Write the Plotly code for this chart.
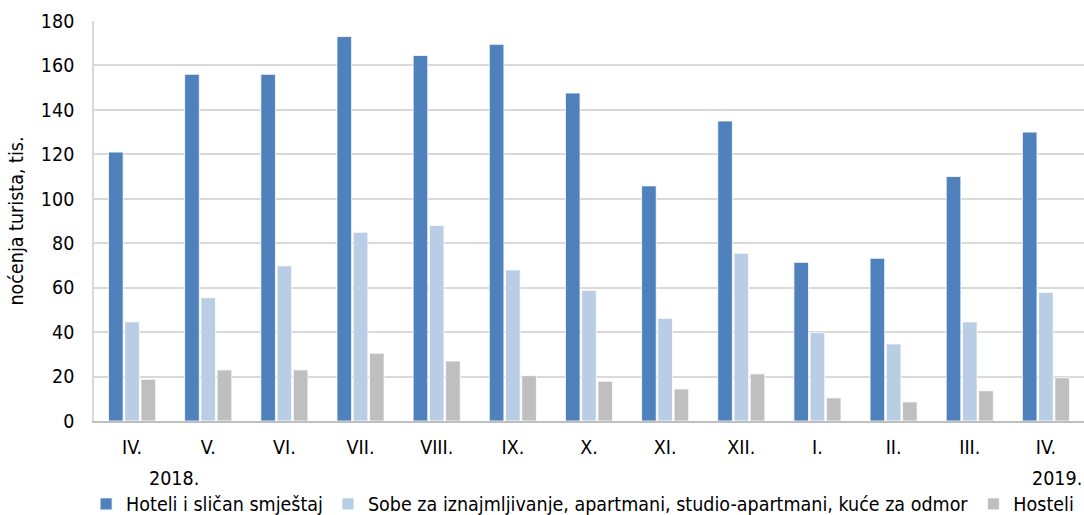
import plotly.graph_objects as go

categories = ["IV.", "V.", "VI.", "VII.", "VIII.", "IX.", "X.", "XI.", "XII.", "I.", "II.", "III.", "IV. "]
tick_text = ["IV.", "V.", "VI.", "VII.", "VIII.", "IX.", "X.", "XI.", "XII.", "I.", "II.", "III.", "IV."]
hoteli = [121, 156, 156, 173, 164.5, 169.5, 147.6, 105.8, 135, 71.4, 73.2, 110, 130]
sobe = [44.6, 55.5, 69.8, 84.9, 88, 68, 58.8, 46.2, 75.5, 39.7, 34.7, 44.6, 57.9]
hosteli = [18.8, 23, 23, 30.5, 27, 20.4, 17.9, 14.4, 21.2, 10.4, 8.6, 13.6, 19.5]
series_names = ["Hoteli i sličan smještaj",
                "Sobe za iznajmljivanje, apartmani, studio-apartmani, kuće za odmor",
                "Hosteli"]
years = ["2018.", "2019."]

FONT = "DejaVu Sans Condensed, sans-serif"
FS = 19.5
colors = ["#4F81BD", "#B9CDE5", "#BFBFBF"]

fig = go.Figure()
for name, vals, c in zip(series_names, [hoteli, sobe, hosteli], colors):
    fig.add_trace(go.Bar(x=categories, y=vals, name=name, marker_color=c,
                         marker_line=dict(color="white", width=0.8)))

fig.update_layout(
    width=1084, height=515,
    margin=dict(l=94, r=0, t=21, b=94, autoexpand=False),
    paper_bgcolor="white", plot_bgcolor="white",
    barmode="group", bargap=0.36, bargroupgap=0.1,
    font=dict(family=FONT, size=FS, color="#000000"),
    showlegend=True,
    legend=dict(orientation="h", x=-0.008, xanchor="left", y=-0.208, yanchor="middle",
                font=dict(family=FONT, size=FS), itemwidth=30, tracegroupgap=0,
                bgcolor="rgba(0,0,0,0)"),
)
fig.update_xaxes(type="category", tickvals=categories, ticktext=tick_text,
                 showgrid=False, showline=True, linecolor="#BFBFBF", linewidth=2,
                 ticks="", ticklabelstandoff=8, tickfont=dict(family=FONT, size=FS))
fig.update_yaxes(range=[0, 180], dtick=20, showgrid=True, gridcolor="#D9D9D9", gridwidth=1.5,
                 showline=True, linecolor="#D9D9D9", linewidth=1.5, ticks="",
                 zeroline=False, ticklabelstandoff=14,
                 title=dict(text="noćenja turista, tis.", font=dict(family=FONT, size=FS), standoff=12),
                 tickfont=dict(family=FONT, size=FS))

fig.add_annotation(x=0.55, y=-0.1425, xref="x", yref="paper", text=years[0], showarrow=False,
                   yanchor="middle", font=dict(family=FONT, size=FS))
fig.add_annotation(x=1.0, y=-0.1425, xref="paper", yref="paper", text=years[1], showarrow=False,
                   xanchor="right", yanchor="middle", font=dict(family=FONT, size=FS))

fig.write_html("out.html", config={"displayModeBar": False},
               post_script="document.body.style.margin='0';document.body.style.overflow='hidden';")
